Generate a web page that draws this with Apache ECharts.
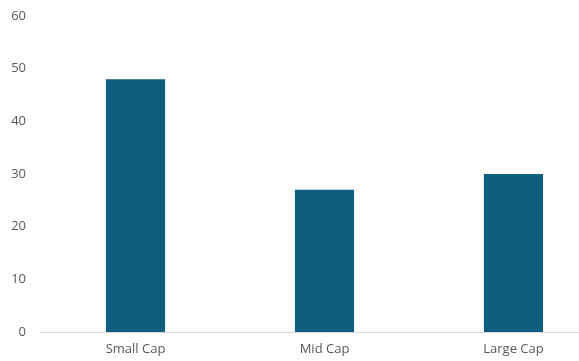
<!DOCTYPE html>
<html>
<head>
<meta charset="utf-8">
<script src="https://cdn.jsdelivr.net/npm/echarts@6/dist/echarts.min.js"></script>
<style>html,body{margin:0;padding:0;background:#fff;overflow:hidden;width:579px;height:361px;}#c{width:608px;height:361px;}</style>
</head>
<body>
<div id="c"></div>
<script>
const categories = ["Small Cap", "Mid Cap", "Large Cap"];
const values = [48, 27, 30];
const yTicks = [0, 10, 20, 30, 40, 50, 60];

const chart = echarts.init(document.getElementById('c'), null, {renderer: 'canvas'});
chart.setOption({
  animation: false,
  grid: {left: 41, top: 16, right: 0, bottom: 29, containLabel: false},
  xAxis: {
    type: 'category',
    data: categories,
    axisLine: {show: true, lineStyle: {color: '#d9d9d9', width: 1}},
    axisTick: {show: false},
    axisLabel: {color: '#595959', fontFamily: 'Open Sans', fontSize: 13, margin: 11}
  },
  yAxis: {
    type: 'value',
    min: yTicks[0],
    max: yTicks[yTicks.length - 1],
    interval: 10,
    axisLine: {show: false},
    axisTick: {show: false},
    splitLine: {show: false},
    axisLabel: {color: '#595959', fontFamily: 'Open Sans', fontSize: 13, margin: 15}
  },
  series: [{
    type: 'bar',
    data: values,
    barWidth: '31.3%',
    itemStyle: {color: '#0e5e7f'}
  }]
});
</script>
</body>
</html>
